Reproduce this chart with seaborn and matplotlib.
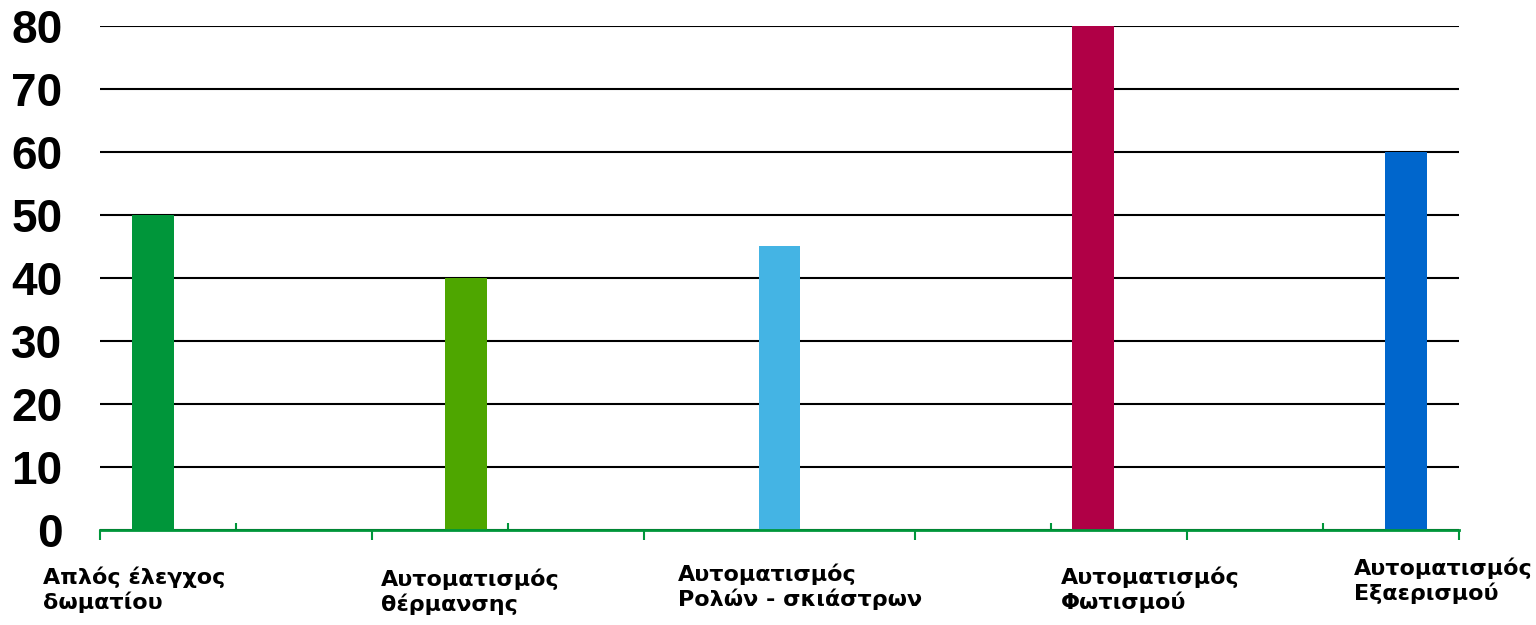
import matplotlib
matplotlib.use("Agg")
import matplotlib.pyplot as plt
import matplotlib.transforms as mtransforms
import seaborn as sns
import pandas as pd

categories = ["Απλός έλεγχος\nδωματίου", "Αυτοματισμός\nθέρμανσης",
              "Αυτοματισμός\nΡολών - σκιάστρων", "Αυτοματισμός\nΦωτισμού",
              "Αυτοματισμός\nΕξαερισμού"]
values = [50, 40, 45, 80, 60]
colors = ["#00963A", "#4EA600", "#44B4E4", "#B00046", "#0066CC"]
yticks = [0, 10, 20, 30, 40, 50, 60, 70, 80]

sns.set_theme(style="white")
plt.rcParams['font.family'] = ['Liberation Sans', 'DejaVu Sans']

df = pd.DataFrame({"cat": categories, "val": values})

fig = plt.figure(figsize=(15.36, 6.25), dpi=100)
ax = fig.add_axes([100/1536, (625-530)/625, (1459-100)/1536, (530-26)/625])

sns.barplot(data=df, x="cat", y="val", hue="cat", hue_order=categories,
            order=categories, palette=colors, dodge=True, width=0.765,
            legend=False, saturation=1, ax=ax, linewidth=0, errorbar=None)

ax.set_xlim(-0.5, 4.5)
ax.set_ylim(0, 80)
ax.set_yticks(yticks)
ax.set_yticklabels([str(v) for v in yticks], fontsize=33, fontweight='bold', color='black')
ax.tick_params(axis='y', length=0, pad=27)

ax.set_xticks([-0.5, 0.5, 1.5, 2.5, 3.5, 4.5])
ax.set_xticklabels([])
ax.set_xticks([0, 1, 2, 3, 4], minor=True)
ax.tick_params(axis='x', which='major', direction='out', length=7, width=1.5, color='#00963A', bottom=True)
ax.tick_params(axis='x', which='minor', direction='in', length=5, width=1.5, color='#00963A', bottom=True)

ax.set_xlabel("")
ax.set_ylabel("")
for s in ["top", "right", "left"]:
    ax.spines[s].set_visible(False)
ax.spines["bottom"].set_color("#00963A")
ax.spines["bottom"].set_linewidth(2)

ax.set_axisbelow(True)
ax.yaxis.grid(True, color='black', linewidth=1.5)
ax.xaxis.grid(False)

trans = mtransforms.blended_transform_factory(ax.transData, ax.transAxes)
label_x = [-0.71, 0.535, 1.625, 3.036, 4.112]
label_y = [-0.072, -0.076, -0.066, -0.072, -0.054]
for lbl, lx, ly in zip(categories, label_x, label_y):
    ax.text(lx, ly, lbl, transform=trans, ha='left', va='top', fontsize=16,
            fontweight='bold', color='black', linespacing=1.22, clip_on=False,
            family=['DejaVu Sans'])

fig.savefig("out.png", dpi=100)
